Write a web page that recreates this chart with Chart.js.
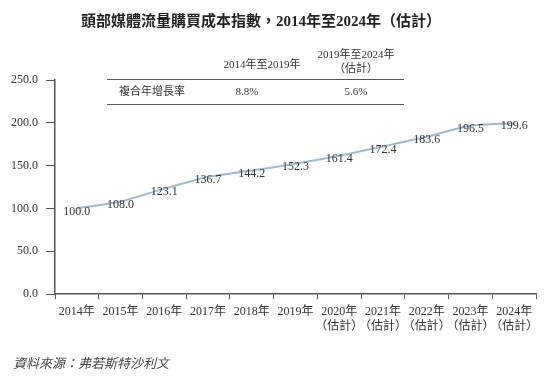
<!DOCTYPE html>
<html>
<head>
<meta charset="utf-8">
<script src="https://cdn.jsdelivr.net/npm/chart.js@4"></script>
<style>
  html, body { margin: 0; padding: 0; background: #fff; }
  #wrap { width: 550px; height: 383px; position: relative; }
</style>
</head>
<body>
<div id="wrap"><canvas id="chart" width="550" height="383"></canvas></div>
<script>
// chart values
var years = [["2014年"], ["2015年"], ["2016年"], ["2017年"], ["2018年"], ["2019年"],
             ["2020年", "（估計）"], ["2021年", "（估計）"], ["2022年", "（估計）"],
             ["2023年", "（估計）"], ["2024年", "（估計）"]];
var indexValues = [100.0, 108.0, 123.1, 136.7, 144.2, 152.3, 161.4, 172.4, 183.6, 196.5, 199.6];
var yTicks = [0, 50, 100, 150, 200, 250];

var titleText = "頭部媒體流量購買成本指數，2014年至2024年（估計）";
var cagrHeaders = [["2014年至2019年"], ["2019年至2024年", "（估計）"]];
var cagrLabel = "複合年增長率";
var cagrValues = ["8.8%", "5.6%"];
var sourceText = "資料來源：弗若斯特沙利文";

var serif = "'Liberation Serif', 'Times New Roman', 'Noto Sans CJK TC', serif";
var ink = "#333";

// title, small table, source note and point labels
var extras = {
    id: "extras",
    afterDatasetsDraw: function(chart) {
        var ctx = chart.ctx;
        ctx.save();
        ctx.fillStyle = "#222";
        ctx.textAlign = "center";
        ctx.textBaseline = "middle";
        ctx.font = "bold 15px " + serif;
        ctx.fillText(titleText, 261, 22);

        // point labels
        ctx.font = "12px " + serif;
        ctx.fillStyle = ink;
        var meta = chart.getDatasetMeta(0);
        meta.data.forEach(function(pt, i) {
            ctx.fillText(indexValues[i].toFixed(1), pt.x, pt.y + 3);
        });

        // CAGR table
        ctx.font = "11px " + serif;
        ctx.fillStyle = ink;
        ctx.fillText(cagrHeaders[0][0], 262, 65);
        ctx.fillText(cagrHeaders[1][0], 356, 55);
        ctx.fillText(cagrHeaders[1][1], 356, 69);
        ctx.fillText(cagrLabel, 152, 92);
        ctx.fillText(cagrValues[0], 247, 92);
        ctx.fillText(cagrValues[1], 356, 92);
        ctx.strokeStyle = "#555";
        ctx.lineWidth = 1;
        ctx.beginPath();
        ctx.moveTo(107, 79.5); ctx.lineTo(404, 79.5);
        ctx.moveTo(107, 104.5); ctx.lineTo(404, 104.5);
        ctx.stroke();

        // source
        ctx.textAlign = "left";
        ctx.font = "italic 13px " + serif;
        ctx.fillStyle = "#444";
        ctx.fillText(sourceText, 13, 365);
        ctx.restore();
    }
};

new Chart(document.getElementById("chart"), {
    type: "line",
    data: {
        labels: years,
        datasets: [{
            data: indexValues,
            borderColor: "#a3b7cd",
            borderWidth: 2,
            pointRadius: 0,
            tension: 0.25,
            fill: false
        }]
    },
    options: {
        responsive: false,
        animation: false,
        layout: { padding: { left: 0, top: 80, right: 14, bottom: 0 } },
        scales: {
            x: {
                offset: true,
                grid: { offset: true, drawOnChartArea: false, drawTicks: true, tickLength: 5, color: "#555" },
                border: { display: true, color: "#555", width: 1.5 },
                ticks: { color: ink, font: { family: serif, size: 12 }, padding: 6, maxRotation: 0, autoSkip: false },
                afterFit: function(s) { s.height = 89; }
            },
            y: {
                min: 0,
                max: 250,
                afterBuildTicks: function(s) { s.ticks = yTicks.map(function(v) { return { value: v }; }); },
                grid: { drawOnChartArea: false, drawTicks: true, tickLength: 9, color: "#555" },
                border: { display: true, color: "#555", width: 1.5 },
                ticks: {
                    color: ink,
                    font: { family: serif, size: 12 },
                    padding: 8,
                    callback: function(v) { return Number(v).toFixed(1); }
                },
                afterFit: function(s) { s.width = 55; }
            }
        },
        plugins: {
            legend: { display: false },
            tooltip: { enabled: false }
        }
    },
    plugins: [extras]
});
</script>
</body>
</html>
